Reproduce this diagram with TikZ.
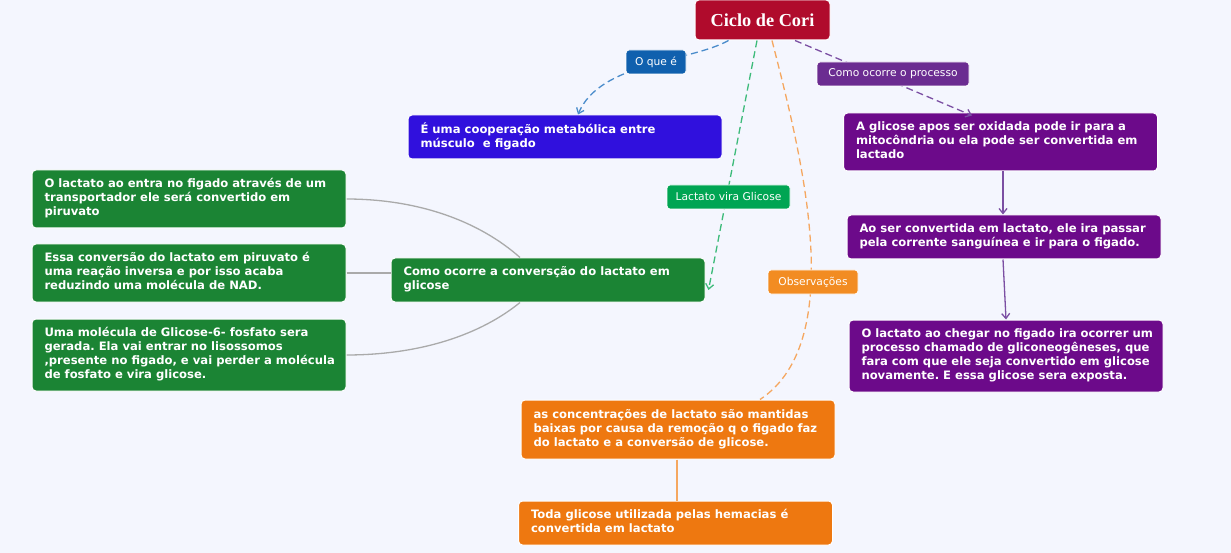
\documentclass[tikz,border=0pt]{standalone}
\usepackage{fontspec}
\setmainfont{DejaVu Sans}
\newfontfamily\titlefont{Liberation Serif}
\usetikzlibrary{arrows.meta,calc}
\frenchspacing
\definecolor{bg}{HTML}{F4F6FE}
\definecolor{titlec}{HTML}{B00B2C}
\definecolor{bluelab}{HTML}{1060AE}
\definecolor{blueline}{HTML}{4A8CCB}
\definecolor{ebox}{HTML}{3010DD}
\definecolor{purplab}{HTML}{6B2C91}
\definecolor{purpbox}{HTML}{6C0A8A}
\definecolor{purpline}{HTML}{7B4FA3}
\definecolor{greenlab}{HTML}{00A553}
\definecolor{greenline}{HTML}{3DBB7A}
\definecolor{greenbox}{HTML}{1B8434}
\definecolor{orangelab}{HTML}{F28C22}
\definecolor{orangeline}{HTML}{F5A760}
\definecolor{orangebox}{HTML}{EE7810}
\definecolor{grayline}{HTML}{AAAAAA}
\newcommand\bxtext[1]{\makebox[289pt][l]{\begin{tabular}{@{}l@{}}#1\end{tabular}}}
\tikzset{
  box/.style={rounded corners=4pt, draw=white, line width=1pt, text=white,
    font=\fontsize{11.6}{14}\selectfont\bfseries, inner xsep=12.5pt, inner ysep=0pt,
    minimum width=314pt},
  lab/.style={rounded corners=3pt, draw=white, line width=0.8pt, text=white,
    font=\fontsize{10.7}{12}\selectfont, inner sep=0pt, minimum height=24pt},
  dashline/.style={dashed, dash pattern=on 7pt off 4pt, line width=1.3pt},
  tip/.style={-{Straight Barb[length=5pt,width=8pt]}},
}
\begin{document}
\begin{tikzpicture}[x=1pt,y=-1pt]
\fill[bg] (0,0) rectangle (1231,553);
\useasboundingbox (0,0) rectangle (1231,553);

% nodes
\node[rounded corners=4pt, draw=white, line width=1pt, fill=titlec, text=white,
  font=\titlefont\fontsize{18.3}{20}\selectfont\bfseries, minimum width=135pt, minimum height=40pt]
  (title) at (762.5,20) {Ciclo de Cori};

\node[box, fill=ebox, minimum height=44pt] (ebox) at (565,137)
  {\bxtext{É uma cooperação metabólica entre\\músculo\ \ e figado}};

\node[box, fill=purpbox, minimum height=58pt] (p1) at (1000.5,142)
  {\bxtext{A glicose apos ser oxidada pode ir para a\\mitocôndria ou ela pode ser convertida em\\lactado}};
\node[box, fill=purpbox, minimum height=44pt] (p2) at (1004,237)
  {\bxtext{Ao ser convertida em lactato, ele ira passar\\pela corrente sanguínea e ir para o figado.}};
\node[box, fill=purpbox, minimum height=72pt] (p3) at (1006,356)
  {\bxtext{O lactato ao chegar no figado ira ocorrer um\\processo chamado de gliconeogêneses, que\\fara com que ele seja convertido em glicose\\novamente. E essa glicose sera exposta.}};

\node[box, fill=greenbox, minimum height=44pt] (conv) at (548,280)
  {\bxtext{Como ocorre a conversção do lactato em\\glicose}};

% gray connectors (drawn before left boxes)
\draw[grayline, line width=1.3pt] (346,199) coordinate (g1e) .. controls (420,199) and (480,222) .. ([xshift=-28pt]conv.north);
\draw[grayline, line width=1.3pt] (346,355) coordinate (g3e) .. controls (420,355) and (480,335) .. ([xshift=-28pt]conv.south);

\node[box, fill=greenbox, minimum height=58pt] (g1) at (189,199)
  {\bxtext{O lactato ao entra no figado através de um\\transportador ele será convertido em\\piruvato}};
\node[box, fill=greenbox, minimum height=58pt] (g2) at (189,273)
  {\bxtext{Essa conversão do lactato em piruvato é\\uma reação inversa e por isso acaba\\reduzindo uma molécula de NAD.}};
\node[box, fill=greenbox, minimum height=72pt] (g3) at (189,355)
  {\bxtext{Uma molécula de Glicose-6- fosfato sera\\gerada. Ela vai entrar no lisossomos\\,presente no figado, e vai perder a molécula\\de fosfato e vira glicose.}};

\draw[grayline, line width=1.3pt] (g2.east) -- (conv.west |- g2.east);

\node[box, fill=orangebox, minimum height=59pt] (o1) at (678,429.5)
  {\bxtext{as concentrações de lactato são mantidas\\baixas por causa da remoção q o figado faz\\do lactato e a conversão de glicose.}};
\node[box, fill=orangebox, minimum height=44pt] (o2) at (675.5,523)
  {\bxtext{Toda glicose utilizada pelas hemacias é\\convertida em lactato}};

% dashed connectors
\draw[blueline, dashline, tip] ([xshift=-34pt]title.south) .. controls (690,62) and (600,62) .. ([xshift=13pt]ebox.north);
\draw[greenline, dashline, tip] ([xshift=-5.5pt]title.south) -- ([shift={(3pt,-10pt)}]conv.east);
\draw[orangeline, dashline] ([xshift=9.5pt]title.south) .. controls (800,150) and (850,340) .. ([xshift=82pt]o1.north);
\draw[purpline, dashline, tip] ([xshift=32.5pt]title.south) -- ([xshift=-28.5pt,yshift=-3pt]p1.north);

% solid connectors
\draw[purpline, line width=1.3pt, tip] ([xshift=2.5pt]p1.south) -- ([xshift=-1pt]p2.north);
\draw[purpline, line width=1.3pt, tip] ([xshift=-1pt]p2.south) -- ([xshift=0pt]p3.north);
\draw[orangeline, line width=1.3pt] ([xshift=-1pt]o1.south) -- ([xshift=1.5pt]o2.north);

% labels on top
\node[lab, fill=bluelab, minimum width=60pt] (oque) at (656,62) {O que é};
\node[lab, fill=purplab, minimum width=152pt] (como) at (893,74) {Como ocorre o processo};
\node[lab, fill=greenlab, minimum width=123pt] (vira) at (728.5,197) {Lactato vira Glicose};
\node[lab, fill=orangelab, minimum width=90pt] (obs) at (813,282) {Observações};
\end{tikzpicture}
\end{document}
